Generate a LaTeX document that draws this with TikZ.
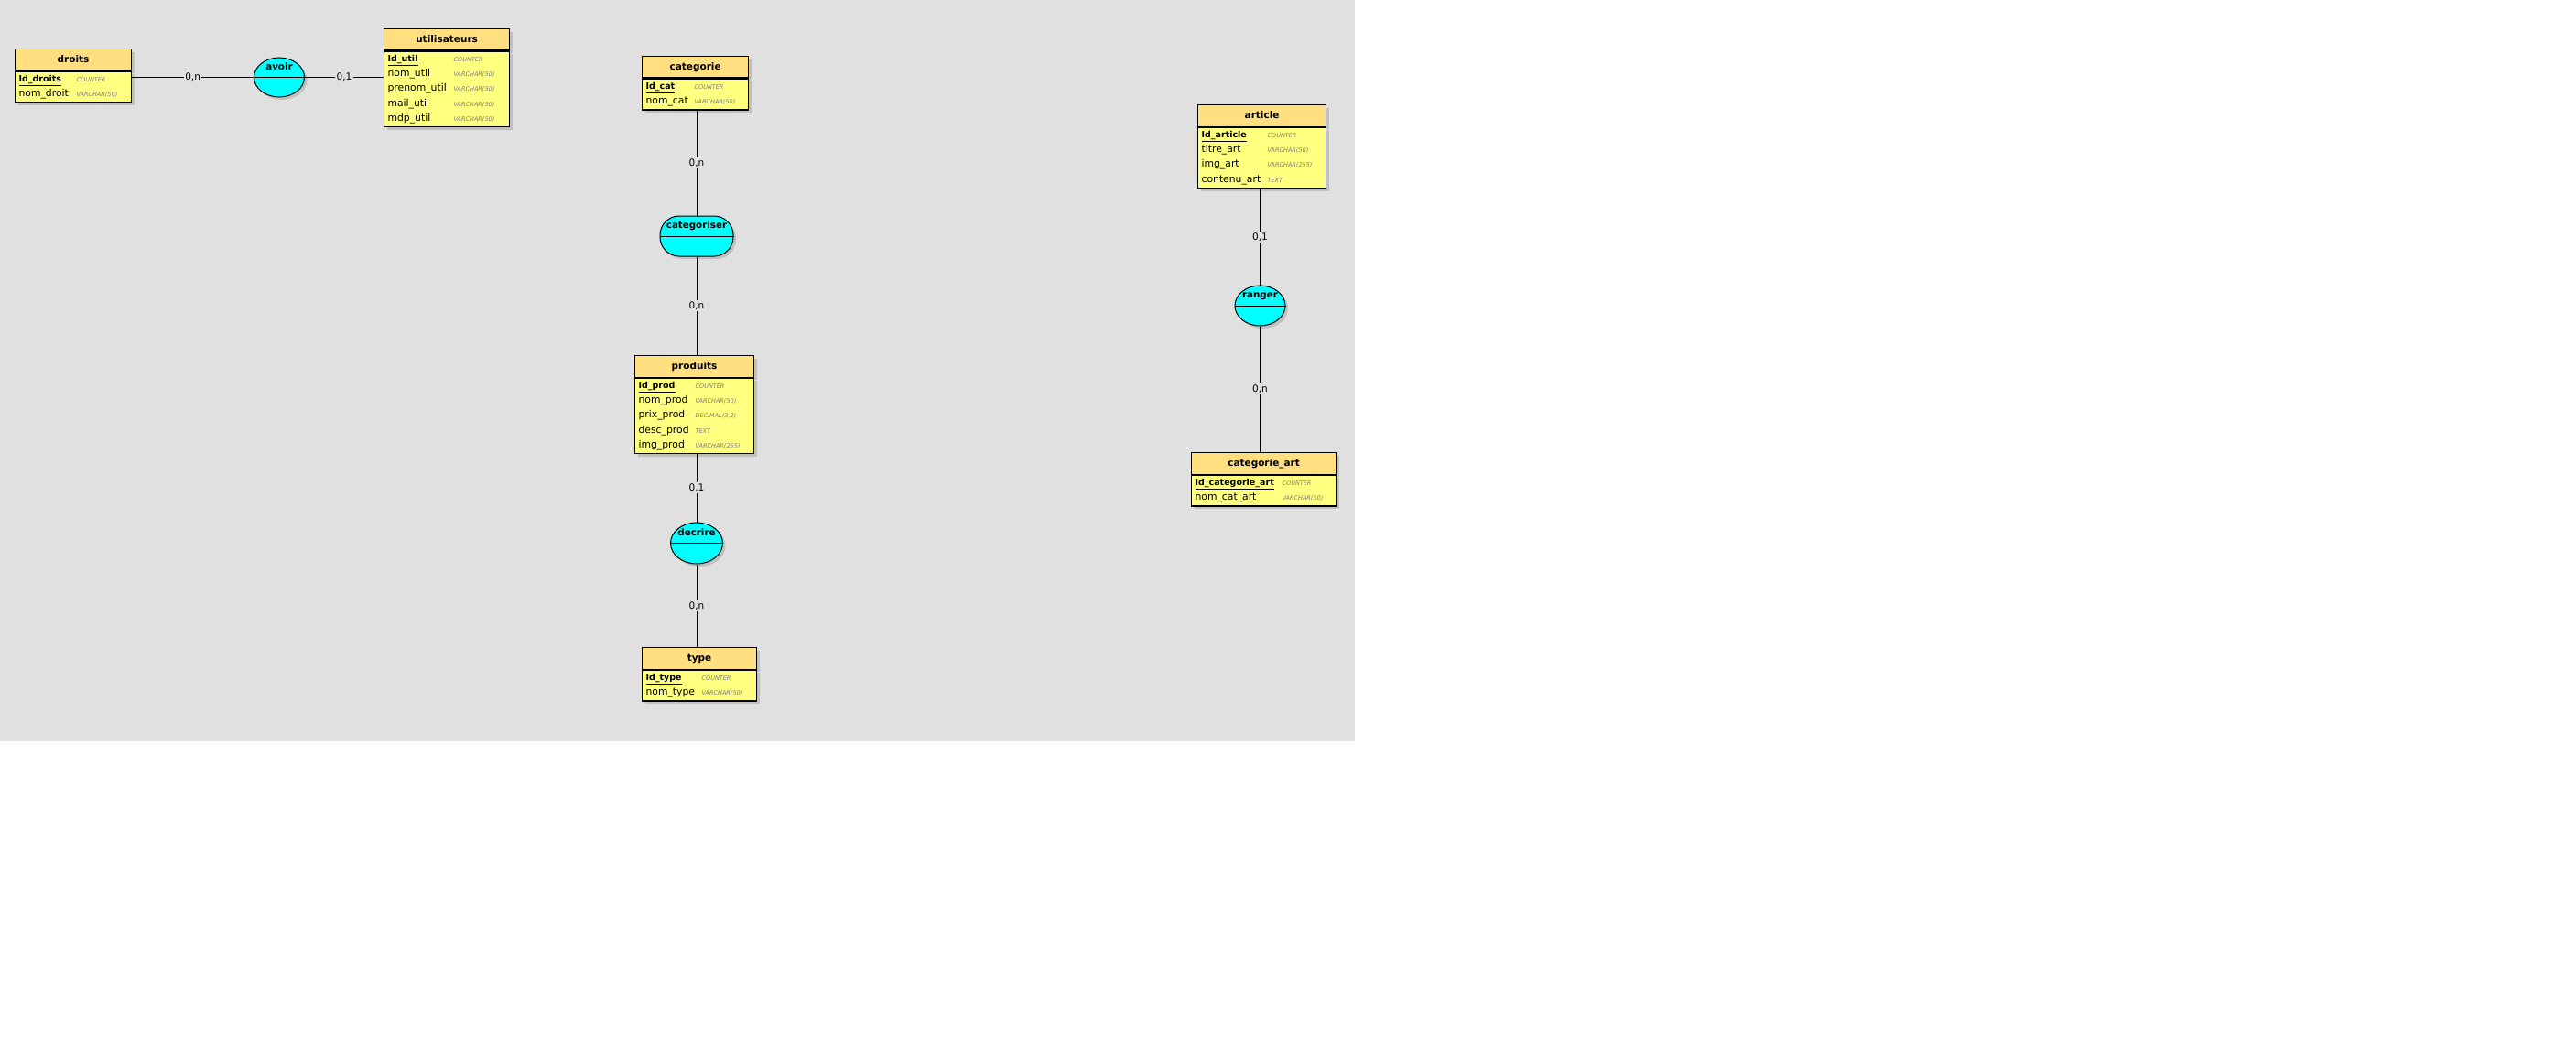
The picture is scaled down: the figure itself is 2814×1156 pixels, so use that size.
\documentclass[tikz,border=0pt]{standalone}
\usepackage{fontspec}
\setmainfont{DejaVu Sans}
\usetikzlibrary{shapes.geometric,shadows}
\definecolor{fond}{RGB}{224,224,224}
\definecolor{entete}{RGB}{255,223,128}
\definecolor{corps}{RGB}{255,255,128}
\definecolor{assoc}{RGB}{0,255,255}
\definecolor{ombre}{RGB}{192,192,192}
\definecolor{typegris}{RGB}{125,125,125}
\newcommand{\typ}[1]{{\fontsize{6.5}{8}\selectfont\itshape\color{typegris}#1}}
\newcommand{\cle}[1]{{\fontsize{9.5}{16.3}\selectfont\bfseries\underline{#1}}}
\begin{document}
\begin{tikzpicture}[x=1pt,y=-1pt,
  ombrage/.style={drop shadow={shadow xshift=3pt,shadow yshift=-3pt,fill=ombre,opacity=1}},
  titre/.style={draw, line width=1.2pt, fill=entete, ombrage, anchor=north west, minimum height=23.5pt,
    inner sep=0pt, text height=8pt, text depth=2.5pt, font=\fontsize{10.5}{12}\selectfont\bfseries},
  attributs/.style={draw, line width=1.2pt, fill=corps, ombrage, anchor=north west, align=left,
    inner xsep=4pt, inner ysep=3.8pt, font=\fontsize{10.8}{16.3}\selectfont},
  relation/.style={draw, line width=1pt, fill=assoc, ombrage, inner sep=0pt},
  relnom/.style={yshift=11pt, text height=8pt, text depth=2.5pt, font=\fontsize{10.3}{12}\selectfont\bfseries},
  lien/.style={line width=1pt},
  card/.style={midway, fill=fond, inner sep=1.5pt, font=\fontsize{10.5}{12}\selectfont}]
 \useasboundingbox (0,0) rectangle (2814,1156);
 \fill[fond] (0,0) rectangle (1480,810);

 % entites
 \node[titre, minimum width=127pt] (droits) at (16,53) {droits};
 \node[attributs, text width=119pt] (droits-att) at (droits.south west)
   {\makebox[63pt][l]{\cle{Id\_droits}}\typ{COUNTER}\\
    \makebox[63pt][l]{nom\_droit}\typ{VARCHAR(50)}};

 \node[titre, minimum width=137pt] (utilisateurs) at (419,31) {utilisateurs};
 \node[attributs, text width=129pt] (utilisateurs-att) at (utilisateurs.south west)
   {\makebox[72pt][l]{\cle{Id\_util}}\typ{COUNTER}\\
    \makebox[72pt][l]{nom\_util}\typ{VARCHAR(50)}\\
    \makebox[72pt][l]{prenom\_util}\typ{VARCHAR(50)}\\
    \makebox[72pt][l]{mail\_util}\typ{VARCHAR(50)}\\
    \makebox[72pt][l]{mdp\_util}\typ{VARCHAR(50)}};

 \node[titre, minimum width=116pt] (categorie) at (701,61) {categorie};
 \node[attributs, text width=108pt] (categorie-att) at (categorie.south west)
   {\makebox[53pt][l]{\cle{Id\_cat}}\typ{COUNTER}\\
    \makebox[53pt][l]{nom\_cat}\typ{VARCHAR(50)}};

 \node[titre, minimum width=130pt] (produits) at (693,388) {produits};
 \node[attributs, text width=122pt] (produits-att) at (produits.south west)
   {\makebox[62pt][l]{\cle{Id\_prod}}\typ{COUNTER}\\
    \makebox[62pt][l]{nom\_prod}\typ{VARCHAR(50)}\\
    \makebox[62pt][l]{prix\_prod}\typ{DECIMAL(3,2)}\\
    \makebox[62pt][l]{desc\_prod}\typ{TEXT}\\
    \makebox[62pt][l]{img\_prod}\typ{VARCHAR(255)}};

 \node[titre, minimum width=125pt] (type) at (701,707) {type};
 \node[attributs, text width=117pt] (type-att) at (type.south west)
   {\makebox[61pt][l]{\cle{Id\_type}}\typ{COUNTER}\\
    \makebox[61pt][l]{nom\_type}\typ{VARCHAR(50)}};

 \node[titre, minimum width=140pt] (article) at (1308,114) {article};
 \node[attributs, text width=132pt] (article-att) at (article.south west)
   {\makebox[72pt][l]{\cle{Id\_article}}\typ{COUNTER}\\
    \makebox[72pt][l]{titre\_art}\typ{VARCHAR(50)}\\
    \makebox[72pt][l]{img\_art}\typ{VARCHAR(255)}\\
    \makebox[72pt][l]{contenu\_art}\typ{TEXT}};

 \node[titre, minimum width=158pt] (catart) at (1301,494) {categorie\_art};
 \node[attributs, text width=150pt] (catart-att) at (catart.south west)
   {\makebox[95pt][l]{\cle{Id\_categorie\_art}}\typ{COUNTER}\\
    \makebox[95pt][l]{nom\_cat\_art}\typ{VARCHAR(50)}};

 % associations
 \node[relation, ellipse, minimum width=55pt, minimum height=43pt,
   label={[relnom]center:avoir}] (avoir) at (305,84.5) {};
 \draw[lien] (avoir.west) -- (avoir.east);
 \node[relation, rounded corners=21pt, minimum width=80pt, minimum height=44pt,
   label={[relnom]center:categoriser}] (categoriser) at (761,258) {};
 \draw[lien] (categoriser.west) -- (categoriser.east);
 \node[relation, ellipse, minimum width=57pt, minimum height=45pt,
   label={[relnom]center:decrire}] (decrire) at (761,593.5) {};
 \draw[lien] (decrire.west) -- (decrire.east);
 \node[relation, ellipse, minimum width=55pt, minimum height=44pt,
   label={[relnom]center:ranger}] (ranger) at (1376.5,334) {};
 \draw[lien] (ranger.west) -- (ranger.east);

 % liens
 \draw[lien] (avoir) -- (avoir -| droits-att.east) node[card] {0,n};
 \draw[lien] (avoir) -- (avoir -| utilisateurs-att.west) node[card] {0,1};
 \draw[lien] (categoriser) -- (categoriser |- categorie-att.south) node[card] {0,n};
 \draw[lien] (categoriser) -- (categoriser |- produits.north) node[card] {0,n};
 \draw[lien] (decrire) -- (decrire |- produits-att.south) node[card] {0,1};
 \draw[lien] (decrire) -- (decrire |- type.north) node[card] {0,n};
 \draw[lien] (ranger) -- (ranger |- article-att.south) node[card] {0,1};
 \draw[lien] (ranger) -- (ranger |- catart.north) node[card] {0,n};
\end{tikzpicture}
\end{document}
